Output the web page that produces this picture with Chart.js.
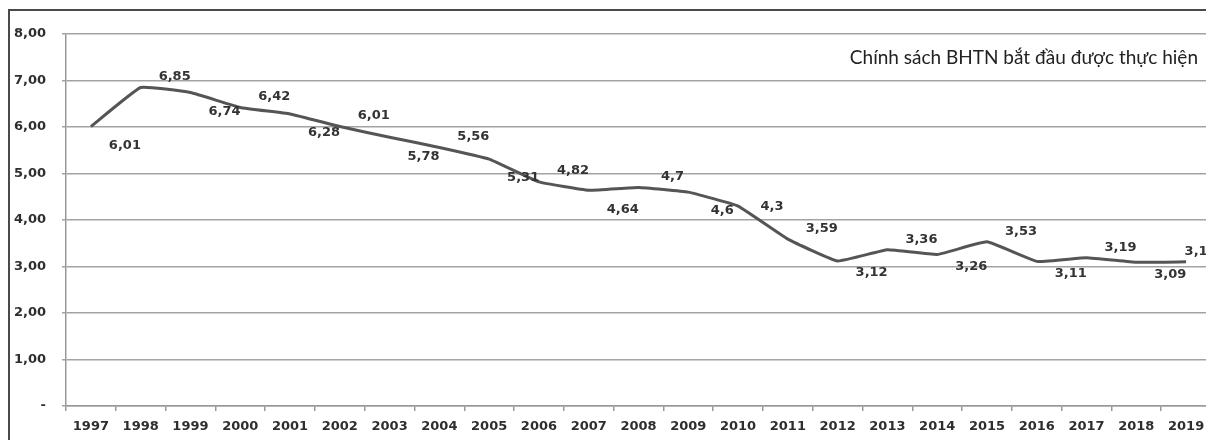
<!DOCTYPE html>
<html>
<head>
<meta charset="utf-8">
<script src="https://cdn.jsdelivr.net/npm/chart.js@4"></script>
<style>
  html, body { margin: 0; padding: 0; background: #fff; overflow: hidden; }
  #wrap { position: relative; width: 1216px; height: 440px; }
</style>
</head>
<body>
<div id="wrap"><canvas id="rateChart"></canvas></div>
<script>
// years and unemployment rate (%)
const years = ['1997', '1998', '1999', '2000', '2001', '2002', '2003', '2004', '2005', '2006', '2007', '2008',
               '2009', '2010', '2011', '2012', '2013', '2014', '2015', '2016', '2017', '2018', '2019'];
const rates = [6.01, 6.85, 6.74, 6.42, 6.28, 6.01, 5.78, 5.56, 5.31, 4.82, 4.64, 4.7,
               4.6, 4.3, 3.59, 3.12, 3.36, 3.26, 3.53, 3.11, 3.19, 3.09, 3.1];
const yTicks = [0, 1, 2, 3, 4, 5, 6, 7, 8];
const note = 'Chính sách BHTN bắt đầu được thực hiện';

const fmtComma = v => String(v).replace('.', ',');

// where each value label sits relative to its point
function labelShift(i, n) {
    let dy;
    if (i < 13) dy = i % 2 === 0 ? 19 : -11;
    else if (i === 13) dy = 1;
    else dy = i % 2 === 1 ? 12 : -10;
    const dx = i === n - 1 ? 10 : 34;
    return [dx, dy];
}

// frame + note + value labels
const decor = {
    id: 'decor',
    beforeDraw(chart) {
        const ctx = chart.ctx;
        ctx.save();
        ctx.strokeStyle = '#4a4a4a';
        ctx.lineWidth = 2;
        ctx.beginPath();
        ctx.moveTo(9, 440);
        ctx.lineTo(9, 10);
        ctx.lineTo(chart.width, 10);
        ctx.stroke();
        ctx.restore();
    },
    afterDatasetsDraw(chart) {
        const ctx = chart.ctx;
        const pts = chart.getDatasetMeta(0).data;
        ctx.save();
        ctx.font = 'bold 13px "DejaVu Sans"';
        ctx.fillStyle = '#333';
        ctx.textAlign = 'center';
        ctx.textBaseline = 'middle';
        pts.forEach((p, i) => {
            const [dx, dy] = labelShift(i, pts.length);
            ctx.fillText(fmtComma(rates[i]), p.x + dx, p.y + dy);
        });
        ctx.font = '19px Lato';
        ctx.fillStyle = '#222';
        ctx.textAlign = 'right';
        ctx.fillText(note, 1198, 58);
        ctx.restore();
    }
};

const ctx = document.getElementById('rateChart').getContext('2d');
new Chart(ctx, {
    type: 'line',
    data: {
        labels: years,
        datasets: [{
            data: rates,
            borderColor: '#555',
            borderWidth: 3,
            pointRadius: 0,
            tension: 0.1,
            fill: false
        }]
    },
    options: {
        responsive: true,
        maintainAspectRatio: false,
        animation: false,
        layout: { padding: { top: 34, right: 5, left: 0, bottom: 0 } },
        plugins: { legend: { display: false }, tooltip: { enabled: false } },
        scales: {
            x: {
                offset: true,
                grid: { offset: true, drawOnChartArea: false, drawTicks: true, tickLength: 5, color: '#999', lineWidth: 1.5 },
                border: { color: '#999', width: 1.5 },
                ticks: { color: '#2e2e2e', font: { family: 'DejaVu Sans', weight: 'bold', size: 13 }, padding: 8, maxRotation: 0, autoSkip: false },
                afterFit(scale) { scale.height = 34; }
            },
            y: {
                min: 0,
                max: 8,
                afterBuildTicks(scale) { scale.ticks = yTicks.map(v => ({ value: v })); },
                grid: { color: '#a3a3a3', lineWidth: 1.5, tickLength: 4 },
                border: { color: '#999', width: 1.5 },
                ticks: {
                    color: '#2e2e2e',
                    font: { family: 'DejaVu Sans', weight: 'bold', size: 13 },
                    padding: 16,
                    callback: v => v === 0 ? '-' : v.toFixed(2).replace('.', ',')
                },
                afterFit(scale) { scale.width = 66; }
            }
        }
    },
    plugins: [decor]
});
</script>
</body>
</html>
